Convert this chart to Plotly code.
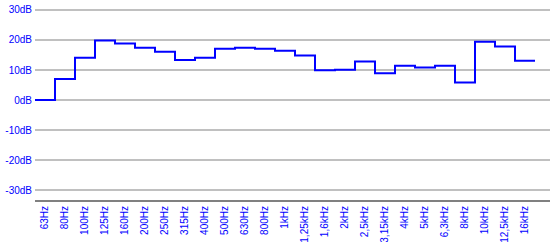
import numpy as np
import plotly.graph_objects as go

bands = ["63Hz", "80Hz", "100Hz", "125Hz", "160Hz", "200Hz", "250Hz", "315Hz",
         "400Hz", "500Hz", "630Hz", "800Hz", "1kHz", "1,25kHz", "1,6kHz", "2kHz",
         "2,5kHz", "3,15kHz", "4kHz", "5kHz", "6,3kHz", "8kHz", "10kHz", "12,5kHz", "16kHz"]
levels_db = [0.0, 7.0, 14.1, 19.8, 18.8, 17.4, 16.1, 13.3, 14.1, 17.1, 17.4, 17.1,
             16.4, 14.8, 9.9, 10.1, 12.8, 8.9, 11.4, 10.8, 11.4, 5.8, 19.4, 17.8, 13.1]
y_ticks = [-30, -20, -10, 0, 10, 20, 30]
y_tick_labels = [f"{v}dB" for v in y_ticks]

n = len(bands)
edges = np.arange(n + 1) - 0.5
step_y = levels_db + [levels_db[-1]]

fig = go.Figure()
fig.add_trace(go.Scatter(
    x=edges, y=step_y, mode="lines", line=dict(shape="hv", color="#0000ff", width=2),
    hoverinfo="skip", showlegend=False))

font = dict(family="Liberation Sans, Arial, sans-serif", size=10, color="#0000ff")
fig.update_layout(
    width=551, height=242,
    margin=dict(l=35, r=1, t=0, b=42),
    paper_bgcolor="white", plot_bgcolor="white",
    font=font,
    xaxis=dict(range=[-0.5, n + 0.25], tickvals=list(range(n)), ticktext=bands,
               tickangle=-90, showgrid=False, zeroline=False, showline=True,
               linecolor="#808080", linewidth=2, ticks="", tickfont=font),
    yaxis=dict(range=[-33.33, 33.33], tickvals=y_ticks, ticktext=y_tick_labels,
               showgrid=True, gridcolor="#c0c0c0", gridwidth=2, zeroline=False,
               showline=False, ticks="", tickfont=font, ticklabelstandoff=2),
)
fig.write_html("out.html")
